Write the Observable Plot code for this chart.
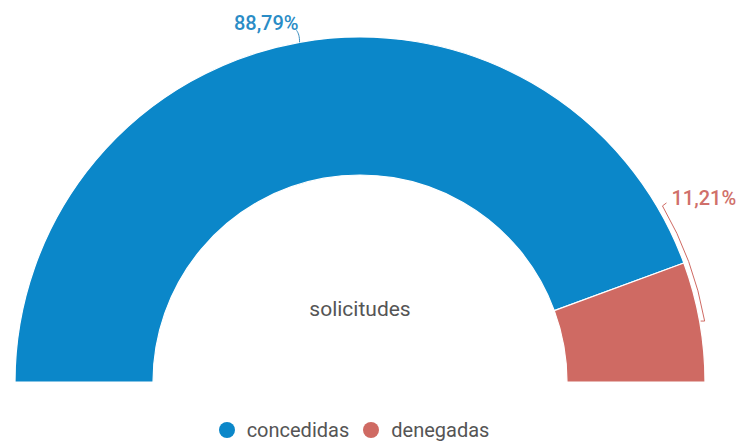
<!DOCTYPE html>
<html><head><meta charset="utf-8">
<script src="https://cdn.jsdelivr.net/npm/d3@7"></script>
<script src="https://cdn.jsdelivr.net/npm/@observablehq/plot@0.6"></script>
<style>
body{margin:0;background:#fff;font-family:Roboto,sans-serif;}
#legend{display:flex;justify-content:center;align-items:center;font-size:20px;color:#555;height:26px;margin-left:-14px;line-height:26px}
#legend .sw{display:inline-block;width:16px;height:16px;border-radius:50%;margin-right:12px}
#legend span.item{display:flex;align-items:center;margin-right:14px}
</style></head>
<body><div id="chart"></div>
<script>
const categories = ["concedidas", "denegadas"];
const values = [88.79, 11.21];
const labels = ["88,79%", "11,21%"];
const colors = ["#0b87c9", "#cf6a63"];
const centerLabel = "solicitudes";

const data = categories.map((c, i) => ({category: c, value: values[i], label: labels[i]}));
const W = 736, H = 417;
const cx = 360, cy = 382, R = 345, r0 = 207;

const pie = d3.pie().value(d => d.value).sort(null).startAngle(-Math.PI/2).endAngle(Math.PI/2);
const arcs = pie(data);
const arcGen = d3.arc().innerRadius(r0).outerRadius(R);

function donut(index, scales, values, dimensions) {
  const g = d3.create("svg:g").attr("transform", `translate(${cx},${cy})`).attr("text-anchor","start");
  g.selectAll("path.slice").data(arcs).join("path")
    .attr("d", arcGen)
    .attr("fill", d => scales.color(d.data.category))
    .attr("stroke", "#fff").attr("stroke-width", 1.2);
  // blue label with leader
  const a0 = arcs[0];
  const m0 = (a0.startAngle + a0.endAngle)/2;
  const px = R*Math.sin(m0), py = -R*Math.cos(m0);
  g.append("path")
    .attr("d", `M${px},${py} C${px},${py-6} ${px-1},${py-9} ${px-3},${py-12}`)
    .attr("fill","none").attr("stroke", "#3b8fc0").attr("stroke-width",1);
  g.append("text").attr("x", px-1).attr("y", py-12).attr("text-anchor","end")
    .attr("fill","#2a8cc6").attr("font-size",20).attr("font-weight",500)
    .text(a0.data.label);
  // red label with bracket
  const a1 = arcs[1];
  const rb = R + 5;
  const s = a1.startAngle - 0.175, e = a1.endAngle - 0.175;
  const p1 = [rb*Math.sin(s), -rb*Math.cos(s)], p2 = [rb*Math.sin(e), -rb*Math.cos(e)];
  const c = scales.color(a1.data.category);
  g.append("path").attr("d", `M${p1[0]+4},${p1[1]-3} L${p1[0]},${p1[1]} A${rb},${rb} 0 0 1 ${p2[0]},${p2[1]} L${p2[0]-4},${p2[1]}`)
    .attr("stroke",c).attr("fill","none").attr("stroke-width",1);
  g.append("text").attr("x", p1[0]+9).attr("y", p1[1]-1)
    .attr("fill","#d0706a").attr("font-size",20).attr("font-weight",500)
    .text(a1.data.label);
  g.append("text").attr("x", 0).attr("y", -66).attr("text-anchor","middle")
    .attr("fill","#555").attr("font-size",21).text(centerLabel);
  return g.node();
}

const chart = Plot.plot({
  width: W, height: H, margin: 0,
  style: {fontFamily: "Roboto, sans-serif", background: "#fff"},
  x: {axis: null, domain: [0, 1]}, y: {axis: null, domain: [0, 1]},
  color: {domain: categories, range: colors},
  marks: [ donut ]
});
document.getElementById("chart").appendChild(chart);

const leg = d3.select("body").append("div").attr("id","legend");
categories.forEach((c,i) => {
  const it = leg.append("span").attr("class","item");
  it.append("span").attr("class","sw").style("background", colors[i]);
  it.append("span").text(c);
});
</script></body></html>
